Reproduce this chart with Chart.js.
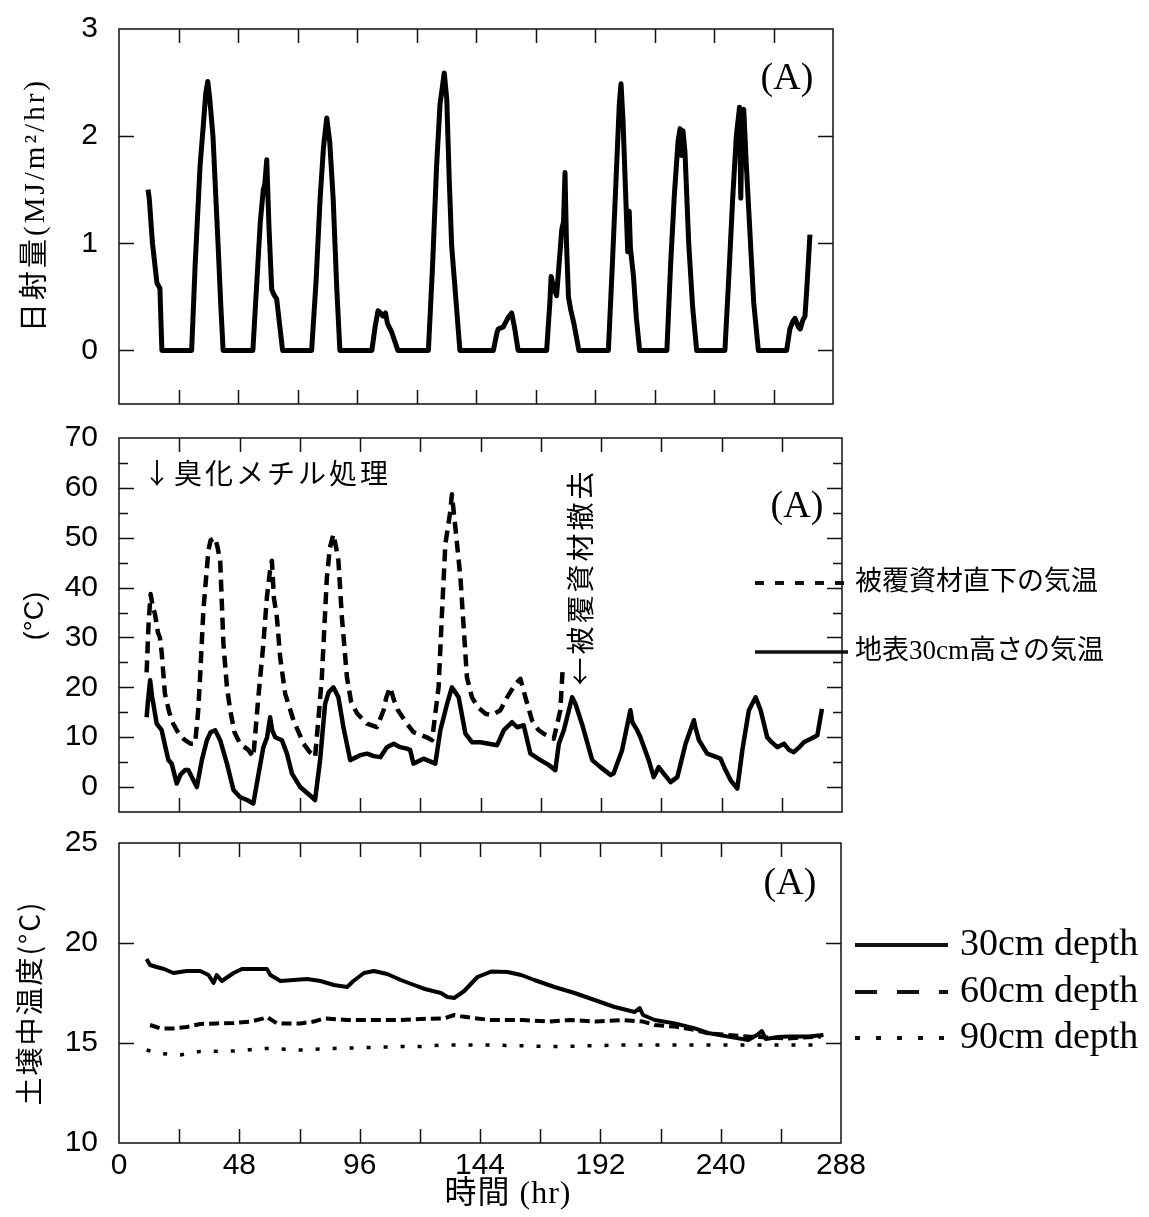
<!DOCTYPE html>
<html>
<head>
<meta charset="utf-8">
<script src="https://cdn.jsdelivr.net/npm/chart.js@4.4.1/dist/chart.umd.min.js"></script>
<style>
  html, body { margin: 0; padding: 0; background: #fff; }
  body { width: 1149px; height: 1217px; position: relative; overflow: hidden; }
  canvas { position: absolute; left: 0; }
</style>
</head>
<body>
<canvas id="solarChart" width="1149" height="415" style="top:0px"></canvas>
<canvas id="airChart" width="1149" height="415" style="top:415px"></canvas>
<canvas id="soilChart" width="1149" height="387" style="top:830px"></canvas>
<script>
// ---- data: [hour, value] pairs ----
// hourly solar radiation (MJ/m2/hr)
const solarRadiation = [
  [11.7,1.50],[12.2,1.42],[13.5,1.0],[15.3,0.63],[16.5,0.58],[17.3,0],
  [29.3,0],[30.7,0.79],[32.7,1.72],[34,2.1],[35,2.4],[35.8,2.51],[36.6,2.35],[37.9,2.0],[40,0.97],[41,0.45],[42,0],
  [54,0],[55.5,0.6],[57,1.2],[58.2,1.5],[58.8,1.55],[59.6,1.78],[60.5,1.15],[61.6,0.57],[62.5,0.52],[63.6,0.48],[66,0],
  [77.7,0],[79.5,0.65],[81.1,1.41],[82.5,1.9],[83.8,2.17],[85,1.95],[86.4,1.41],[87.8,0.6],[89.1,0],
  [102,0],[103.3,0.22],[104.5,0.37],[105.5,0.35],[106.5,0.32],[107.5,0.35],[108.3,0.25],[110,0.17],[112.5,0],
  [124.8,0],[126.5,0.8],[128.1,1.72],[129.5,2.3],[131.2,2.59],[132.2,2.35],[133.2,1.6],[134.2,0.97],[135.3,0.65],[137.5,0],
  [151,0],[152.5,0.17],[153,0.2],[155,0.22],[156.8,0.3],[158.4,0.35],[159.5,0.22],[161,0],
  [172.5,0],[173.8,0.45],[174.3,0.69],[175.2,0.6],[176.5,0.51],[177.5,0.8],[178.6,1.13],[179.3,1.2],[179.9,1.66],[180.5,1.0],[181.3,0.5],[182.2,0.38],[183.5,0.25],[185.5,0],
  [197.4,0],[199,0.8],[200.5,1.6],[201.8,2.3],[202.5,2.49],[203.3,2.15],[204.3,1.5],[205.2,0.92],[205.8,1.3],[206.3,0.95],[207.5,0.7],[208.7,0.3],[210,0],
  [221,0],[222.5,0.8],[224,1.45],[225.5,1.95],[226.3,2.07],[226.9,1.82],[227.5,2.05],[228.3,1.85],[229.8,1.0],[231.4,0.4],[233,0],
  [244.4,0],[246,0.7],[247.5,1.4],[249,2.0],[250.3,2.27],[250.8,1.42],[251.4,2.2],[252,2.25],[253,1.75],[254.5,1.1],[256,0.45],[257.9,0],
  [269.3,0],[270.6,0.2],[271.8,0.27],[272.7,0.3],[274,0.22],[274.8,0.2],[275.8,0.28],[276.7,0.32],[277.5,0.6],[278.7,1.08]
];

// air temperature just under the cover sheet (°C)
const underCoverTemp = [
  [11,23],[11.8,33],[12.6,38.7],[13.5,36],[14.3,34.8],[15.5,31],[16.3,30],[17,27],[18.3,18.7],[20,15],[21.6,12.7],[24,10.5],[26.3,9.4],[28.5,8.7],[30.3,8.7],
  [31.5,15],[32.3,22],[33.6,35.4],[35.6,47.4],[36.5,49.5],[38.3,50],[39.3,48],[40.3,45.4],[41.6,28.7],[43,20],[44.3,15.4],[46,11],[48.2,8.7],[51.6,7.4],[53.5,6],
  [55.5,18],[57.5,28.7],[58.9,38],[60.3,44],[60.9,45.4],[61.7,38],[62.9,34],[64.2,26],[66.2,18.7],[69.5,13.4],[73.5,8.7],[76,7],[78.1,6],
  [79.5,14],[80.8,22],[82.8,42],[84,48],[85.4,50.7],[86.5,48],[87.4,45.4],[88.8,34],[90.8,22],[92.5,17],[94.8,14.8],[98.8,12.7],[102.7,12],
  [105.4,15.4],[106.5,18],[108,20],[109.5,17.5],[111,15.5],[114.7,12.7],[117.3,11],[120,10.5],[123.3,9.8],[124.7,9.4],
  [127.3,20],[128.7,35.4],[130,48.7],[132,55.4],[132.6,58.7],[134,52],[136,42],[137.3,32],[138.6,22],[140.6,18],[143,16],[146,14.7],[148.6,14.4],
  [151.9,15.4],[154.6,18],[157.9,20.7],[159.9,21.7],[161.9,18],[164.5,13.4],[167,11.5],[169.2,10.7],[173.2,9.7],[175.8,15.4],[176.7,23.4]
];

// air temperature 30 cm above the ground (°C)
const air30cmTemp = [
  [11,14],[11.5,17],[12.4,21.4],[13.2,18],[13.7,16.7],[15,12.7],[17,11.4],[18.5,8],[19.7,5.4],[21,4.7],[23,0.7],[24.5,2.5],[26.3,3.4],[27.6,3.4],[29.5,1.5],[31,0],
  [33,5.4],[35,9.4],[36.5,11],[38.3,11.4],[40.3,9.4],[43,4.7],[45.6,-0.6],[48.2,-2],[51,-2.6],[53.5,-3.3],[54.9,0.7],[57.5,8],[59,10],[60.2,14],[61,11.4],
  [62.2,10],[64.9,9.4],[66.9,6.7],[68.9,2.7],[72.2,0],[74.5,-1],[76.8,-2],[78.1,-2.6],[80.1,5.4],[82.1,16.7],[83.5,19],[85.4,20],[87.4,18],[89.4,12],[92.1,5.4],
  [96.1,6.4],[98.8,6.7],[101.5,6.2],[104.1,6],[106.7,8],[109.4,8.7],[112,8],[114.7,7.7],[116,7.4],[117.3,4.7],[121.3,5.7],[126,4.7],[128,11.4],[130.7,16.7],
  [132.6,20],[135.3,18],[138,10.7],[140.6,9],[144,9],[147.3,8.7],[150.6,8.4],[153.3,11.4],[156.6,13],[158.6,12],[161.2,12.4],[163.9,6.7],[167.9,5.4],[171,4.5],
  [173.8,3.4],[175.2,8.7],[177.2,11.4],[180.5,18],[181.8,16.7],[184.4,12.7],[188.5,5.4],[191.8,4],[195.8,2.4],[197,2.7],[200.4,7.4],[203.7,15.4],[204.5,13],
  [206.4,11.4],[207.7,10],[211,5.4],[213,2],[215,4],[217,2.7],[219.7,1],[222.4,2],[225.7,8.7],[229,13.4],[229.6,12],[231,9.4],[234.3,6.7],[237,6.2],[239.6,5.7],
  [241.6,3.4],[243.6,1.4],[246.3,-0.3],[248.3,7.4],[250.9,15.4],[253.6,18],[255.6,15.4],[258.2,10],[260,9],[262.2,8],[264.9,8.7],[266.8,7.5],[268.8,7],
  [271,8],[272.8,9],[276,9.8],[278.2,10.4],[280,15.7]
];

// soil temperature by depth (°C)
const soil30cm = [
  [11,19.2],[12.4,18.9],[15,18.8],[18,18.7],[21.7,18.5],[27,18.6],[32.4,18.6],[35.7,18.4],[37.7,18.0],[39,18.4],[41,18.1],[45.7,18.5],[49,18.7],[53.7,18.7],
  [59,18.7],[60.4,18.4],[64.4,18.1],[69.7,18.15],[75,18.2],[80.4,18.1],[85.7,17.9],[91,17.8],[93.5,18.1],[97.7,18.5],[101.7,18.6],[107,18.45],[112.4,18.15],
  [117.7,17.9],[122,17.7],[128.4,17.5],[131,17.3],[133.7,17.25],[137.7,17.6],[143,18.3],[148.4,18.57],[155,18.55],[160.4,18.4],[165.7,18.15],[173.7,17.8],
  [181.7,17.5],[189.7,17.15],[197.7,16.8],[205.7,16.55],[207.7,16.75],[209,16.4],[213.7,16.15],[221.7,15.98],[229.7,15.73],[235,15.5],[243,15.32],[251,15.15],
  [254.5,15.4],[256.4,15.6],[258,15.2],[263,15.3],[267,15.32],[275,15.32],[281,15.4]
];
const soil60cm = [
  [12.4,15.9],[16.4,15.73],[21.7,15.73],[27,15.8],[32.4,15.95],[39,15.98],[45.7,16.0],[52.4,16.07],[57.7,16.23],[59,16.3],[63,15.98],[72.4,15.98],[77.7,16.07],
  [81.7,16.23],[91,16.15],[99,16.15],[112.4,16.15],[120.4,16.2],[129.7,16.23],[133.7,16.4],[137,16.32],[148,16.15],[161,16.15],[171.7,16.07],[179.7,16.15],
  [190.4,16.07],[201,16.15],[209,16.07],[213.7,15.9],[221.7,15.82],[229.7,15.65],[235,15.48],[243,15.4],[251,15.32],[259,15.28],[267,15.23],[280,15.32]
];
const soil90cm = [
  [11,14.65],[16.4,14.48],[24.4,14.4],[32,14.57],[45.7,14.6],[59,14.73],[72.4,14.65],[85.7,14.73],[99,14.77],[112.4,14.82],[120.4,14.82],[128.4,14.9],
  [148.4,14.9],[173.7,14.82],[201,14.9],[227,14.9],[254,14.9],[280,14.9]
];

// ---- axis ticks ----
const hourTicks = [0, 24, 48, 72, 96, 120, 144, 168, 192, 216, 240, 264, 288];
const solarTicks = [0, 1, 2, 3];
const airTicks = [0, 10, 20, 30, 40, 50, 60, 70];
const airMinorTicks = [5, 15, 25, 35, 45, 55, 65];
const soilTicks = [10, 15, 20, 25];

// ---- legend / annotation text ----
const airSeriesNames = ['被覆資材直下の気温', '地表30cm高さの気温'];
const soilSeriesNames = ['30cm depth', '60cm depth', '90cm depth'];

const SANS = '"Liberation Sans", Arial, "Noto Sans CJK JP", sans-serif';
const SERIF = '"Liberation Serif", "Noto Sans CJK JP", serif';
const CJK = '"Noto Sans CJK JP", "Liberation Sans", sans-serif';

Chart.defaults.color = '#000';
Chart.defaults.font.family = SANS;

const toXY = (pairs) => pairs.map(([x, y]) => ({ x, y }));

function lineSet(pairs, opts) {
  return Object.assign({
    data: toXY(pairs),
    borderColor: '#000',
    backgroundColor: '#000',
    borderWidth: 4,
    pointRadius: 0,
    tension: 0,
    fill: false,
    borderCapStyle: 'butt',
    borderJoinStyle: 'round'
  }, opts);
}

// bottom hour axis; labelSpace is the height reserved below the plot for its labels
function xScale(showLabels, labelSpace) {
  return {
    type: 'linear', min: 0, max: 288,
    afterBuildTicks: (s) => { s.ticks = hourTicks.map(v => ({ value: v })); },
    afterFit: (s) => { s.height = labelSpace; s.paddingLeft = 0; s.paddingRight = 0; },
    grid: { display: false, drawTicks: false },
    border: { display: false },
    ticks: {
      display: showLabels, autoSkip: false, maxRotation: 0, padding: 8,
      font: { size: 30, family: SANS, lineHeight: 1 },
      callback: (v) => (v % 48 === 0 ? String(v) : '')
    }
  };
}

function yScale(min, max, tickValues) {
  return {
    type: 'linear', min, max,
    afterBuildTicks: (s) => { s.ticks = tickValues.map(v => ({ value: v })); },
    afterFit: (s) => { s.width = 119; s.paddingTop = 0; s.paddingBottom = 0; },
    grid: { display: false, drawTicks: false },
    border: { display: false },
    ticks: { padding: 21, font: { size: 30, family: SANS, lineHeight: 1 } }
  };
}

// frame, inward tick marks, titles, legends and notes
function decor(cfg) {
  return {
    id: 'decor',
    afterDraw(chart) {
      const ctx = chart.ctx;
      const a = chart.chartArea;
      const xs = chart.scales.x, ys = chart.scales.y;
      ctx.save();
      ctx.strokeStyle = '#111';
      ctx.lineWidth = 1.5;
      ctx.setLineDash([]);
      ctx.strokeRect(a.left, a.top, a.right - a.left, a.bottom - a.top);
      ctx.beginPath();
      xs.ticks.forEach(t => {
        if (t.value <= xs.min || t.value >= xs.max) return;
        const px = Math.round(xs.getPixelForValue(t.value)) + 0.5;
        ctx.moveTo(px, a.top); ctx.lineTo(px, a.top + 14);
        ctx.moveTo(px, a.bottom); ctx.lineTo(px, a.bottom - 14);
      });
      const yTick = (v, len) => {
        if (v <= ys.min || v >= ys.max) return;
        const py = Math.round(ys.getPixelForValue(v)) + 0.5;
        ctx.moveTo(a.left, py); ctx.lineTo(a.left + len, py);
        ctx.moveTo(a.right, py); ctx.lineTo(a.right - len, py);
      };
      ys.ticks.forEach(t => yTick(t.value, 15));
      (cfg.minor || []).forEach(v => yTick(v, 9));
      ctx.stroke();

      (cfg.lines || []).forEach(l => {
        ctx.beginPath();
        ctx.lineWidth = l.width;
        ctx.lineCap = 'butt';
        ctx.setLineDash(l.dash || []);
        ctx.moveTo(l.x1, l.y); ctx.lineTo(l.x2, l.y);
        ctx.stroke();
      });
      ctx.setLineDash([]);

      (cfg.texts || []).forEach(t => {
        ctx.save();
        ctx.fillStyle = '#000';
        ctx.font = t.font;
        ctx.textAlign = t.align || 'left';
        ctx.textBaseline = 'middle';
        if ('letterSpacing' in ctx) ctx.letterSpacing = (t.spacing || 0) + 'px';
        ctx.translate(t.x, t.y);
        if (t.rotate) ctx.rotate(t.rotate);
        ctx.fillText(t.text, 0, 0);
        ctx.restore();
      });
      ctx.restore();
    }
  };
}

const common = {
  responsive: false,
  animation: false,
  events: [],
  plugins: { legend: { display: false }, tooltip: { enabled: false } }
};

// (A) solar radiation
new Chart(document.getElementById('solarChart'), {
  type: 'line',
  data: { datasets: [lineSet(solarRadiation, { borderWidth: 5 })] },
  options: Object.assign({}, common, {
    layout: { autoPadding: false, padding: { left: 0, top: 29, right: 316, bottom: 11 } },
    scales: { x: xScale(false, 0), y: yScale(-0.5, 3, solarTicks) }
  }),
  plugins: [decor({
    texts: [
      { text: '日射量(MJ/m²/hr)', x: 36, y: 205, rotate: -Math.PI / 2, align: 'center', font: '29px ' + SERIF, spacing: 3 },
      { text: '(A)', x: 787, y: 79, align: 'center', font: '38px ' + SERIF }
    ]
  })]
});

// (A) air temperatures
new Chart(document.getElementById('airChart'), {
  type: 'line',
  data: { datasets: [
    lineSet(underCoverTemp, { borderDash: [12, 7], borderWidth: 4.5 }),
    lineSet(air30cmTemp, { borderWidth: 4.5 })
  ] },
  options: Object.assign({}, common, {
    layout: { autoPadding: false, padding: { left: 0, top: 23, right: 307, bottom: 18 } },
    scales: { x: xScale(false, 0), y: yScale(-5, 70, airTicks) }
  }),
  plugins: [decor({
    minor: airMinorTicks,
    lines: [
      { x1: 755, x2: 848, y: 168, width: 4, dash: [9, 11] },
      { x1: 755, x2: 848, y: 237, width: 3.5 }
    ],
    texts: [
      { text: '(°C)', x: 36, y: 201, rotate: -Math.PI / 2, align: 'center', font: '27px ' + SANS },
      { text: '(A)', x: 797, y: 92, align: 'center', font: '38px ' + SERIF },
      { text: '↓臭化メチル処理', x: 143, y: 58, font: '28px ' + CJK, spacing: 3 },
      { text: '←被覆資材撤去', x: 580, y: 162, rotate: -Math.PI / 2, align: 'center', font: '28px ' + CJK, spacing: 3 },
      { text: airSeriesNames[0], x: 855, y: 168, font: '27px ' + SERIF },
      { text: airSeriesNames[1], x: 855, y: 237, font: '27px ' + SERIF }
    ]
  })]
});

// (A) soil temperatures
new Chart(document.getElementById('soilChart'), {
  type: 'line',
  data: { datasets: [
    lineSet(soil30cm, { borderWidth: 4 }),
    lineSet(soil60cm, { borderDash: [10, 5], borderWidth: 4 }),
    lineSet(soil90cm, { borderDash: [4, 13], borderWidth: 3.5 })
  ] },
  options: Object.assign({}, common, {
    layout: { autoPadding: false, padding: { left: 0, top: 13, right: 308, bottom: 0 } },
    scales: { x: xScale(true, 74), y: yScale(10, 25, soilTicks) }
  }),
  plugins: [decor({
    lines: [
      { x1: 855, x2: 948, y: 115, width: 4 },
      { x1: 855, x2: 948, y: 162, width: 4, dash: [22, 20] },
      { x1: 855, x2: 948, y: 208, width: 4, dash: [5, 16] }
    ],
    texts: [
      { text: '土壌中温度(°C)', x: 29, y: 173, rotate: -Math.PI / 2, align: 'center', font: '28px ' + CJK, spacing: 2 },
      { text: '(A)', x: 790, y: 54, align: 'center', font: '38px ' + SERIF },
      { text: '時間 (hr)', x: 508, y: 365, align: 'center', font: '32px ' + SERIF, spacing: 1 },
      { text: soilSeriesNames[0], x: 960, y: 115, font: '38px ' + SERIF },
      { text: soilSeriesNames[1], x: 960, y: 162, font: '38px ' + SERIF },
      { text: soilSeriesNames[2], x: 960, y: 208, font: '38px ' + SERIF }
    ]
  })]
});
</script>
</body>
</html>
